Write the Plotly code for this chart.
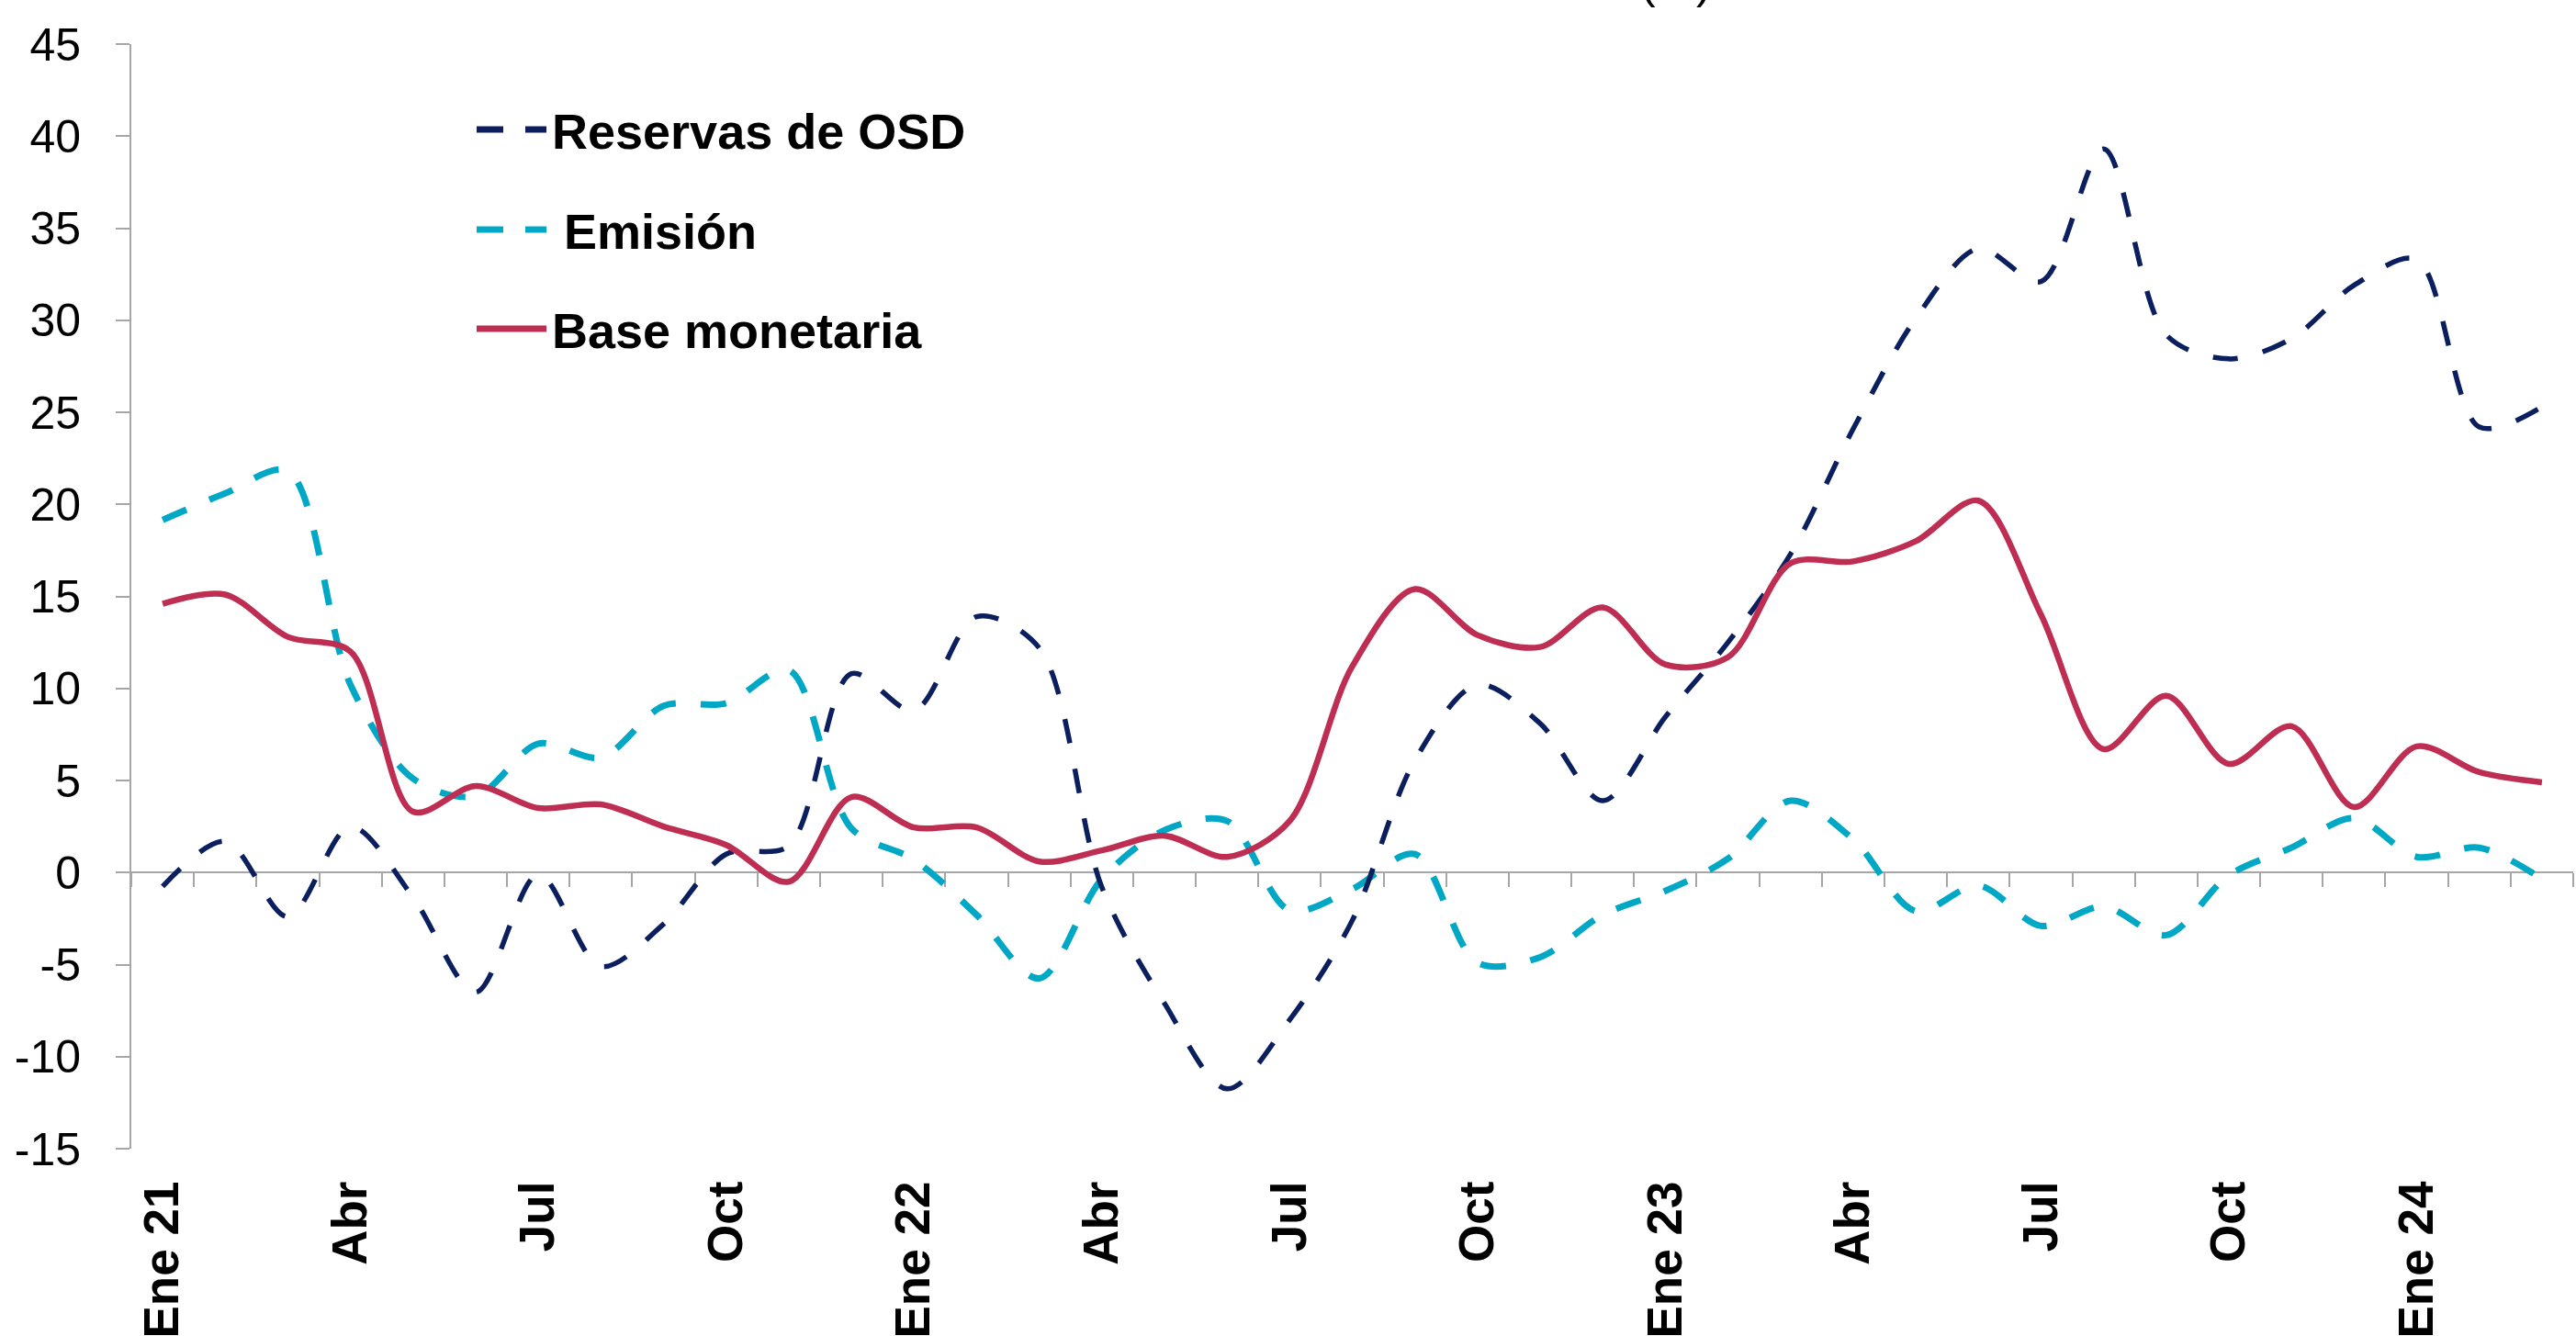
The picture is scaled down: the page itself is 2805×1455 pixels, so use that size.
import plotly.graph_objects as go

# ---------------- data ----------------
months = ["Ene 21", "Feb 21", "Mar 21", "Abr 21", "May 21", "Jun 21", "Jul 21", "Ago 21", "Sep 21", "Oct 21", "Nov 21", "Dic 21",
          "Ene 22", "Feb 22", "Mar 22", "Abr 22", "May 22", "Jun 22", "Jul 22", "Ago 22", "Sep 22", "Oct 22", "Nov 22", "Dic 22",
          "Ene 23", "Feb 23", "Mar 23", "Abr 23", "May 23", "Jun 23", "Jul 23", "Ago 23", "Sep 23", "Oct 23", "Nov 23", "Dic 23",
          "Ene 24", "Feb 24", "Mar 24"]

reservas_osd = [-0.75, 1.7, -2.4, 2.5, -1.35, -6.5, -0.1, -5.1, -2.8, 1.0, 1.45, 10.8, 8.8,
                13.9, 12.2, -0.8, -7.1, -11.75, -8.0, -2.6, 6.1, 10.2, 8.1, 3.9, 8.45, 12.5,
                17.3, 24.1, 30.1, 33.9, 32.1, 39.3, 29.2, 27.9, 29.0, 31.9, 33.3, 24.2, 25.3]

emision = [19.15, 20.6, 21.8, 10.2, 5.1, 4.15, 7.0, 6.25, 9.05, 9.2, 11.0, 2.4, 0.7,
           -2.3, -5.75, -0.35, 2.3, 2.8, -2.05, -0.9, 1.0, -4.9, -4.6, -2.3, -1.0, 0.75,
           3.9, 1.8, -2.1, -0.7, -2.9, -1.85, -3.4, -0.15, 1.35, 2.95, 0.85, 1.35, -0.35]

base_monetaria = [14.6, 15.1, 12.8, 12.0, 3.3, 4.7, 3.5, 3.7, 2.5, 1.5, -0.5, 4.1, 2.45,
                  2.45, 0.6, 1.2, 2.0, 0.85, 2.8, 11.2, 15.4, 12.9, 12.25, 14.4, 11.3, 11.7,
                  16.8, 16.9, 18.0, 20.2, 14.0, 6.7, 9.6, 5.9, 7.95, 3.55, 6.85, 5.45, 4.9]

x_tick_months = ["Ene 21", "Abr 21", "Jul 21", "Oct 21", "Ene 22", "Abr 22", "Jul 22", "Oct 22",
                 "Ene 23", "Abr 23", "Jul 23", "Oct 23", "Ene 24"]
x_tick_labels = ["Ene 21", "Abr", "Jul", "Oct", "Ene 22", "Abr", "Jul", "Oct",
                 "Ene 23", "Abr", "Jul", "Oct", "Ene 24"]
y_tick_values = [-15, -10, -5, 0, 5, 10, 15, 20, 25, 30, 35, 40, 45]
y_tick_labels = ["-15", "-10", "-5", "0", "5", "10", "15", "20", "25", "30", "35", "40", "45"]

series_names = ["Reservas de OSD", "Emisión", "Base monetaria"]

# ---------------- layout geometry ----------------
W, H = 2805, 1455
ML, MR, MT, MB = 143, 3, 48, 204
PW, PH = W - ML - MR, H - MT - MB

def px(x):
    return (x - ML) / PW

def py(y):
    return (H - MB - y) / PH

NAVY = "#0B1F5E"
CYAN = "#00A8C6"
RED = "#BE2D52"
GRAY = "#A6A6A6"
FONT = "Liberation Sans"

fig = go.Figure()

fig.add_trace(go.Scatter(x=months, y=emision, mode="lines", name=series_names[1],
                         line=dict(color=CYAN, width=7, dash="28px,27px", shape="spline", smoothing=0.9),
                         showlegend=False, hoverinfo="skip"))
fig.add_trace(go.Scatter(x=months, y=reservas_osd, mode="lines", name=series_names[0],
                         line=dict(color=NAVY, width=5.5, dash="27px,28px", shape="spline", smoothing=0.9),
                         showlegend=False, hoverinfo="skip"))
fig.add_trace(go.Scatter(x=months, y=base_monetaria, mode="lines", name=series_names[2],
                         line=dict(color=RED, width=6.5, shape="spline", smoothing=0.9),
                         showlegend=False, hoverinfo="skip"))
# empty helper trace so the zero-crossing axis is rendered
fig.add_trace(go.Scatter(x=[None], y=[None], xaxis="x2", showlegend=False, hoverinfo="skip"))

n = len(months)
fig.update_layout(
    width=W, height=H,
    margin=dict(l=ML, r=MR, t=MT, b=MB, pad=0, autoexpand=False),
    paper_bgcolor="white", plot_bgcolor="white",
    font=dict(family=FONT, color="black"),
    xaxis=dict(type="category", categoryorder="array", categoryarray=months,
               range=[-0.5, n - 0.5], showline=False, showgrid=False, zeroline=False,
               automargin=False,
               tickmode="array", tickvals=x_tick_months, ticktext=x_tick_labels,
               tickangle=-90, ticks="", ticklabelstandoff=24,
               tickfont=dict(family=FONT, size=53, color="black", weight="bold")),
    xaxis2=dict(overlaying="x", anchor="free", position=(0 - (-15)) / 60.0,
                range=[-0.5, n - 0.5], showgrid=False, zeroline=False, automargin=False,
                showline=True, linecolor=GRAY, linewidth=2,
                tickmode="array", tickvals=[i - 0.5 for i in range(n + 1)],
                ticks="outside", ticklen=15, tickwidth=2, tickcolor=GRAY,
                showticklabels=False, layer="below traces"),
    yaxis=dict(range=[-15, 45], showgrid=False, zeroline=False, automargin=False,
               showline=True, linecolor=GRAY, linewidth=2,
               tickmode="array", tickvals=y_tick_values, ticktext=y_tick_labels,
               ticks="outside", ticklen=15, tickwidth=2, tickcolor=GRAY,
               ticklabelstandoff=28, layer="below traces",
               tickfont=dict(family=FONT, size=50, color="black")),
)

# ---------------- manual legend ----------------
legend_rows = [(series_names[0], NAVY, "29px,24px", 141, 599),
               (series_names[1], CYAN, "29px,24px", 250, 612),
               (series_names[2], RED, "solid", 358, 599)]
for name, color, dash, yy, xt in legend_rows:
    fig.add_shape(type="line", xref="paper", yref="paper",
                  x0=px(519), x1=px(595), y0=py(yy), y1=py(yy),
                  line=dict(color=color, width=7, dash=dash))
    fig.add_annotation(xref="paper", yref="paper", x=px(xt), y=py(yy + 2),
                       xanchor="left", yanchor="middle", showarrow=False,
                       text=name, font=dict(family=FONT, size=54, color="black", weight="bold"))

# partially visible title at the top edge
fig.add_annotation(xref="paper", yref="paper", x=px(1825), y=py(10.5),
                   xanchor="center", yanchor="bottom", showarrow=False,
                   text="(%)", font=dict(family=FONT, size=50, color="black"))

fig.write_html("out.html", config={"displayModeBar": False},
               post_script="document.body.style.margin='0px';document.body.style.overflow='hidden';")
